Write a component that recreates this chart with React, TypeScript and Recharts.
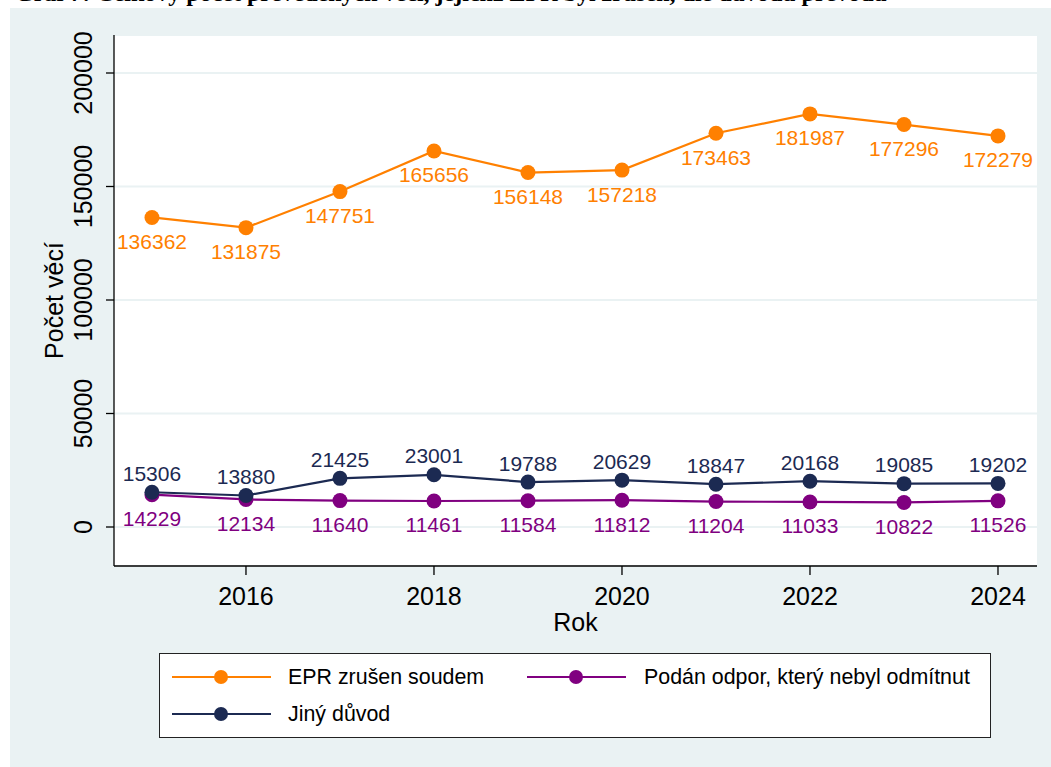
import { LineChart, Line, XAxis, YAxis, CartesianGrid, LabelList, Label } from 'recharts'

const years = [2015, 2016, 2017, 2018, 2019, 2020, 2021, 2022, 2023, 2024]
const eprZrusen = [136362, 131875, 147751, 165656, 156148, 157218, 173463, 181987, 177296, 172279]
const podanOdpor = [14229, 12134, 11640, 11461, 11584, 11812, 11204, 11033, 10822, 11526]
const jinyDuvod = [15306, 13880, 21425, 23001, 19788, 20629, 18847, 20168, 19085, 19202]

const xTicks = [2016, 2018, 2020, 2022, 2024]
const yTicks = [0, 50000, 100000, 150000, 200000]

const seriesNames = ['EPR zrušen soudem', 'Podán odpor, který nebyl odmítnut', 'Jiný důvod']

const ORANGE = '#ff8000'
const PURPLE = '#800080'
const NAVY = '#1c2a52'
const BG = '#eaf2f3'
const FONT = '"Liberation Sans", Arial, sans-serif'

const data = years.map((year, i) => ({
  year,
  epr: eprZrusen[i],
  odpor: podanOdpor[i],
  jiny: jinyDuvod[i],
}))

// label renderer: dy = offset of the text baseline from the marker centre
const makeLabel = (color: string, dy: number) => (props: any) => {
  const { x, y, value } = props
  return (
    <text x={x} y={y + dy} textAnchor="middle" fill={color} fontSize={21} fontFamily={FONT}>
      {value}
    </text>
  )
}

const YTick = (props: any) => {
  const { y, payload } = props
  return (
    <text
      x={92}
      y={y}
      transform={`rotate(-90, 92, ${y})`}
      textAnchor="middle"
      fontSize={25}
      fontFamily={FONT}
      fill="#000"
    >
      {payload.value}
    </text>
  )
}

const XTick = (props: any) => {
  const { x, payload } = props
  return (
    <text x={x} y={605} textAnchor="middle" fontSize={25} fontFamily={FONT} fill="#000">
      {payload.value}
    </text>
  )
}

function LegendSwatch({ color }: { color: string }) {
  return (
    <svg width={100} height={16} style={{ display: 'block' }}>
      <line x1={0} y1={8} x2={99} y2={8} stroke={color} strokeWidth={2.2} />
      <circle cx={49} cy={8} r={7} fill={color} />
    </svg>
  )
}

function ChartLegend() {
  const items = [
    { name: seriesNames[0], color: ORANGE, left: 12, top: 24, textLeft: 128 },
    { name: seriesNames[1], color: PURPLE, left: 367, top: 24, textLeft: 484 },
    { name: seriesNames[2], color: NAVY, left: 12, top: 61, textLeft: 128 },
  ]
  return (
    <div
      style={{
        position: 'absolute',
        left: 159,
        top: 653,
        width: 832,
        height: 85,
        boxSizing: 'border-box',
        border: '1.5px solid #222',
        background: '#fff',
        fontFamily: FONT,
        fontSize: 21.4,
      }}
    >
      {items.map((it) => (
        <div key={it.name}>
          <div style={{ position: 'absolute', left: it.left, top: it.top - 9 }}>
            <LegendSwatch color={it.color} />
          </div>
          <div
            style={{
              position: 'absolute',
              left: it.textLeft,
              top: it.top - 13,
              lineHeight: '24px',
              whiteSpace: 'nowrap',
              color: '#000',
            }}
          >
            {it.name}
          </div>
        </div>
      ))}
    </div>
  )
}

export default function App() {
  return (
    <div style={{ position: 'absolute', left: 0, top: 0, width: 1051, height: 767, background: '#fff', overflow: 'hidden' }}>
      {/* title, cut off by the top of the page */}
      <div
        style={{
          position: 'absolute',
          left: 15,
          top: -19,
          fontFamily: '"Liberation Serif", "Times New Roman", serif',
          fontWeight: 'bold',
          fontSize: 24,
          lineHeight: '24px',
          whiteSpace: 'nowrap',
        }}
      >
        Graf 7: Celkový počet převedených věcí, jejichž EPR byl zrušen, dle důvodu převodu
      </div>
      <div style={{ position: 'absolute', left: 10, top: 8, width: 1041, height: 759, background: BG }} />

      <div style={{ position: 'absolute', left: 0, top: 0 }}>
        <LineChart
          width={1051}
          height={767}
          data={data}
          margin={{ top: 35, right: 14, bottom: 141, left: 14 }}
        >
          <CartesianGrid vertical={false} stroke={BG} strokeWidth={2} fill="#fff" />
          <XAxis
            dataKey="year"
            type="number"
            domain={[2014.596, 2024.415]}
            ticks={xTicks}
            allowDataOverflow
            height={60}
            tick={<XTick />}
            tickSize={9}
            tickLine={{ stroke: '#000', strokeWidth: 1.3 }}
            axisLine={{ stroke: '#000', strokeWidth: 1.3 }}
          >
            <Label
              content={(p: any) => {
                const vb = p.viewBox
                return (
                  <text x={vb.x + vb.width / 2} y={631} textAnchor="middle" fontSize={25} fontFamily={FONT} fill="#000">
                    Rok
                  </text>
                )
              }}
            />
          </XAxis>
          <YAxis
            type="number"
            domain={[-17181, 216740]}
            ticks={yTicks}
            allowDataOverflow
            width={100}
            tick={<YTick />}
            tickSize={8}
            tickLine={{ stroke: '#000', strokeWidth: 1.3 }}
            axisLine={{ stroke: '#000', strokeWidth: 1.3 }}
          >
            <Label
              content={(p: any) => {
                const vb = p.viewBox
                const cy = vb.y + vb.height / 2
                return (
                  <text
                    x={63}
                    y={cy}
                    transform={`rotate(-90, 63, ${cy})`}
                    textAnchor="middle"
                    fontSize={25}
                    fontFamily={FONT}
                    fill="#000"
                  >
                    Počet věcí
                  </text>
                )
              }}
            />
          </YAxis>

          <Line
            type="linear"
            dataKey="epr"
            name={seriesNames[0]}
            stroke={ORANGE}
            strokeWidth={2.2}
            dot={{ r: 7.5, fill: ORANGE, stroke: ORANGE, strokeWidth: 0 }}
            activeDot={false}
            isAnimationActive={false}
          >
            <LabelList dataKey="epr" content={makeLabel(ORANGE, 31.5)} />
          </Line>
          <Line
            type="linear"
            dataKey="odpor"
            name={seriesNames[1]}
            stroke={PURPLE}
            strokeWidth={2.2}
            dot={{ r: 7.5, fill: PURPLE, stroke: PURPLE, strokeWidth: 0 }}
            activeDot={false}
            isAnimationActive={false}
          >
            <LabelList dataKey="odpor" content={makeLabel(PURPLE, 31.5)} />
          </Line>
          <Line
            type="linear"
            dataKey="jiny"
            name={seriesNames[2]}
            stroke={NAVY}
            strokeWidth={2.2}
            dot={{ r: 7.5, fill: NAVY, stroke: NAVY, strokeWidth: 0 }}
            activeDot={false}
            isAnimationActive={false}
          >
            <LabelList dataKey="jiny" content={makeLabel(NAVY, -11.5)} />
          </Line>
        </LineChart>
      </div>

      <ChartLegend />
    </div>
  )
}
